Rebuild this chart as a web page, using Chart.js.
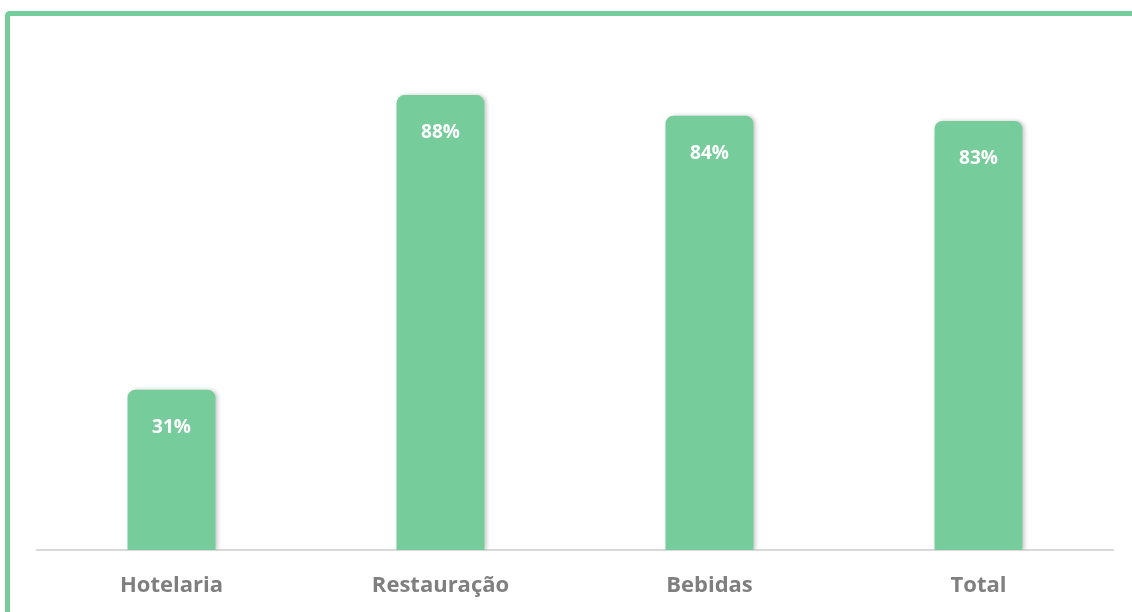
<!DOCTYPE html>
<html>
<head>
<meta charset="utf-8">
<script src="https://cdn.jsdelivr.net/npm/chart.js@4"></script>
<style>
  html, body { margin: 0; padding: 0; background: #fff; }
  body { width: 1132px; height: 612px; position: relative; overflow: hidden; }
  .frame {
    position: absolute; left: 5px; top: 11px; width: 1140px; height: 620px;
    border-top: 5px solid #77cc9c; border-left: 5px solid #77cc9c;
    border-top-left-radius: 5px; box-sizing: border-box;
  }
  .wrap { position: absolute; left: 0; top: 0; width: 1132px; height: 612px; }
</style>
</head>
<body>
<div class="frame"></div>
<div class="wrap"><canvas id="myChart" width="1132" height="612"></canvas></div>
<script>
const categories = ["Hotelaria", "Restauração", "Bebidas", "Total"];
const shares = [31, 88, 84, 83];
const barColor = "#77cc9c";

// white percent labels inside the top of each bar
const valueLabels = {
    id: 'valueLabels',
    afterDatasetsDraw(chart) {
        const ctx = chart.ctx;
        const meta = chart.getDatasetMeta(0);
        ctx.save();
        ctx.fillStyle = '#ffffff';
        ctx.font = 'bold 19px "Open Sans", sans-serif';
        ctx.textAlign = 'center';
        ctx.textBaseline = 'middle';
        meta.data.forEach((bar, i) => {
            ctx.fillText(shares[i] + '%', bar.x, bar.y + 38);
        });
        ctx.restore();
    }
};

// soft shadow like the original bars
const barShadow = {
    id: 'barShadow',
    beforeDatasetDraw(chart) {
        const ctx = chart.ctx;
        ctx.save();
        ctx.shadowColor = 'rgba(0,0,0,0.22)';
        ctx.shadowBlur = 4;
        ctx.shadowOffsetX = 2;
        ctx.shadowOffsetY = 0;
    },
    afterDatasetDraw(chart) {
        chart.ctx.restore();
    }
};

var ctx = document.getElementById('myChart').getContext('2d');
var myChart = new Chart(ctx, {
    type: 'bar',
    data: {
        labels: categories,
        datasets: [{
            data: shares,
            backgroundColor: barColor,
            borderWidth: 0,
            borderRadius: { topLeft: 8, topRight: 8, bottomLeft: 0, bottomRight: 0 },
            borderSkipped: 'bottom',
            barPercentage: 0.327,
            categoryPercentage: 1
        }]
    },
    options: {
        responsive: false,
        animation: false,
        layout: { padding: { top: 33, left: 37, right: 19, bottom: 0 } },
        plugins: { legend: { display: false }, tooltip: { enabled: false } },
        scales: {
            y: { display: false, min: 0, max: 100 },
            x: {
                grid: { display: false, drawTicks: false },
                border: { display: true, color: '#d9d9d9', width: 2 },
                ticks: {
                    color: '#7f7f7f',
                    padding: 23,
                    maxRotation: 0,
                    autoSkip: false,
                    font: { family: '"Open Sans", sans-serif', size: 22, weight: 'bold' }
                },
                afterFit(scale) { scale.height = 62; }
            }
        }
    },
    plugins: [barShadow, valueLabels]
});
</script>
</body>
</html>
